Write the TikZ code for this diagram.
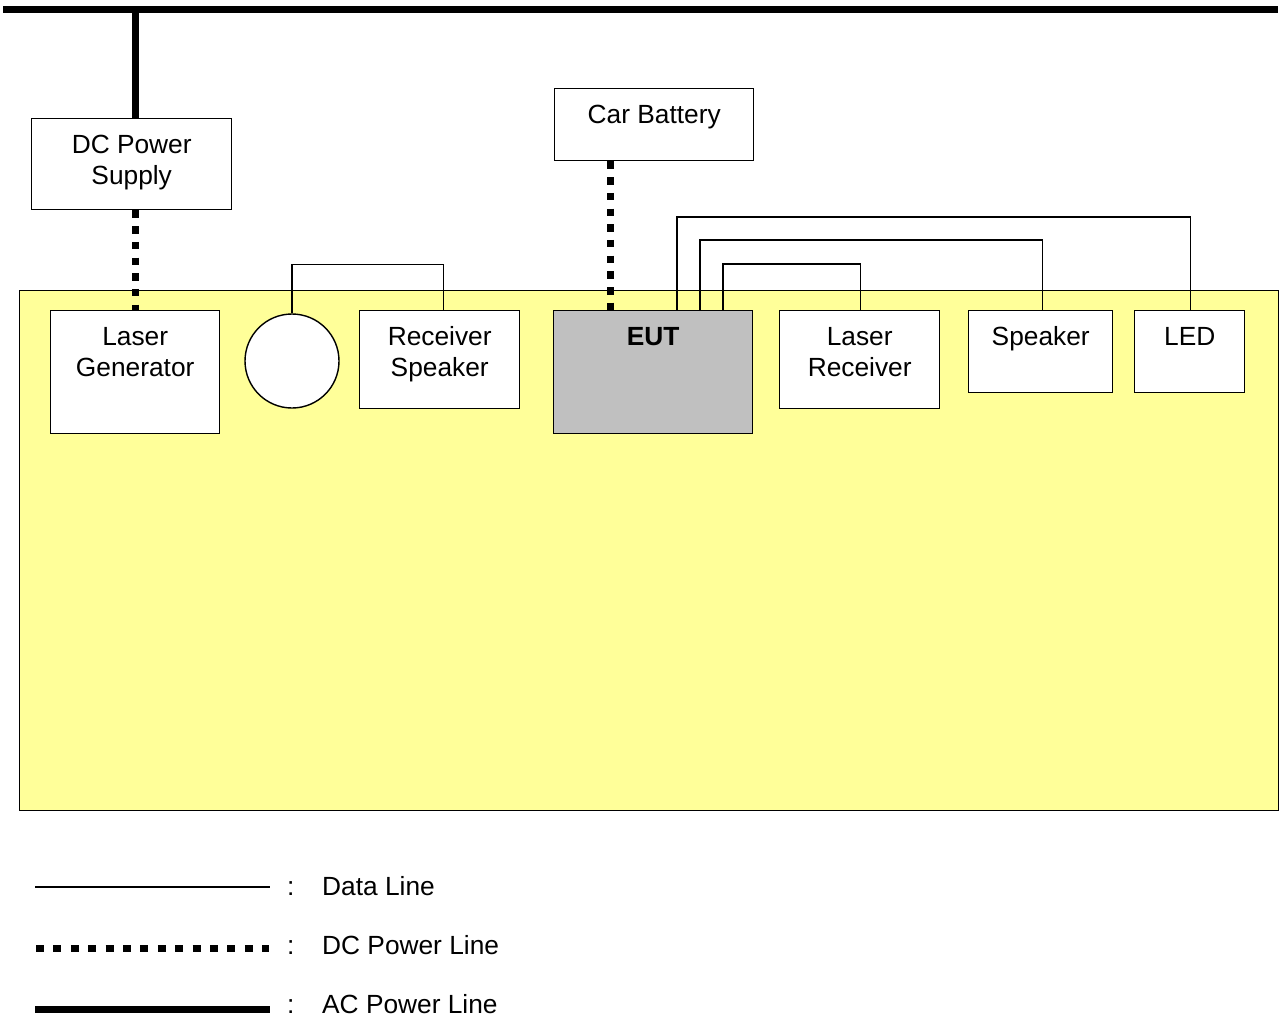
\documentclass[tikz,border=0pt]{standalone}
\usepackage{fontspec}
\setmainfont{Liberation Sans}
\usetikzlibrary{positioning}
\newcommand{\unittext}[3]{\parbox[c][#2pt][t]{#1pt}{\centering\rule{0pt}{35pt}#3}}

\begin{document}
\begin{tikzpicture}[x=1pt, y=-1pt, font=\fontsize{26.3}{31}\selectfont,
            unitbox/.style={draw, line width=1.4pt, fill=white, inner sep=0pt, anchor=north west},
            data_line/.style={line width=1.4pt},
            dc_line/.style={line width=7pt, dash pattern=on 7.5pt off 8.2pt},
            ac_line/.style={line width=7pt}]
            \useasboundingbox (0, 0) rectangle (1281, 1020);

            \node[draw, line width=1.4pt, fill={rgb,255:red,255;green,255;blue,153}, inner sep=0pt,
                minimum width=1259pt, minimum height=520pt, anchor=north west] (table) at (19, 290) {};

            \coordinate (mains_left) at (3, 9);
            \coordinate (mains_right) at (1278, 9);

            \node[unitbox] (dc_supply) at (31, 118) {\unittext{200}{91}{DC Power\\Supply}};
            \node[unitbox] (car_battery) at (554, 88) {\unittext{199}{72}{Car Battery}};
            \node[unitbox] (laser_gen) at (50, 310) {\unittext{169}{123}{Laser\\Generator}};
            \node[draw, circle, line width=1.4pt, fill=white, minimum size=94pt, inner sep=0pt] (mic) at (292, 361) {};
            \node[unitbox] (rx_speaker) at (359, 310) {\unittext{160}{98}{Receiver\\Speaker}};
            \node[unitbox, fill={rgb,255:red,192;green,192;blue,192}] (eut) at (553, 310) {\unittext{199}{123}{\bfseries EUT}};
            \node[unitbox] (laser_rx) at (779, 310) {\unittext{160}{98}{Laser\\Receiver}};
            \node[unitbox] (speaker) at (968, 310) {\unittext{144}{82}{Speaker}};
            \node[unitbox] (led) at (1134, 310) {\unittext{110}{82}{LED}};

            \draw [ac_line] (mains_left) -- (mains_right);
            \draw [ac_line] ([xshift=3.5pt]dc_supply.north) -- ([xshift=3.5pt]dc_supply.north |- mains_left);
            \draw [dc_line] (laser_gen.north |- dc_supply.south) -- (laser_gen.north);
            \draw [dc_line] ([xshift=-42.5pt]eut.north |- car_battery.south) -- ([xshift=-42.5pt]eut.north);

            \draw [data_line] (mic.north) -- ++(0, -49) -| ([xshift=4pt]rx_speaker.north);
            \draw [data_line] ([xshift=124pt]eut.north west) -- ++(0, -93) -| ([xshift=1pt]led.north);
            \draw [data_line] ([xshift=147pt]eut.north west) -- ++(0, -70) -| ([xshift=2pt]speaker.north);
            \draw [data_line] ([xshift=170pt]eut.north west) -- ++(0, -46) -| ([xshift=1pt]laser_rx.north);

            \coordinate (data_a) at (35, 887);
            \coordinate (data_b) at (270, 887);
            \coordinate (dc_a) at (36, 948);
            \coordinate (dc_b) at (269, 948);
            \coordinate (ac_a) at (35, 1009);
            \coordinate (ac_b) at (270, 1009);
            \draw [data_line] (data_a) -- (data_b);
            \draw [dc_line, dash pattern=on 8pt off 9.4pt] (dc_a) -- (dc_b);
            \draw [ac_line] (ac_a) -- (ac_b);
            \node[anchor=west, inner sep=0pt] (data_key) at (287, 886) {\makebox[35pt][l]{:}Data Line};
            \node[anchor=west, inner sep=0pt] (dc_key) at (287, 945) {\makebox[35pt][l]{:}DC Power Line};
            \node[anchor=west, inner sep=0pt] (ac_key) at (287, 1004) {\makebox[35pt][l]{:}AC Power Line};
        \end{tikzpicture}
\end{document}
